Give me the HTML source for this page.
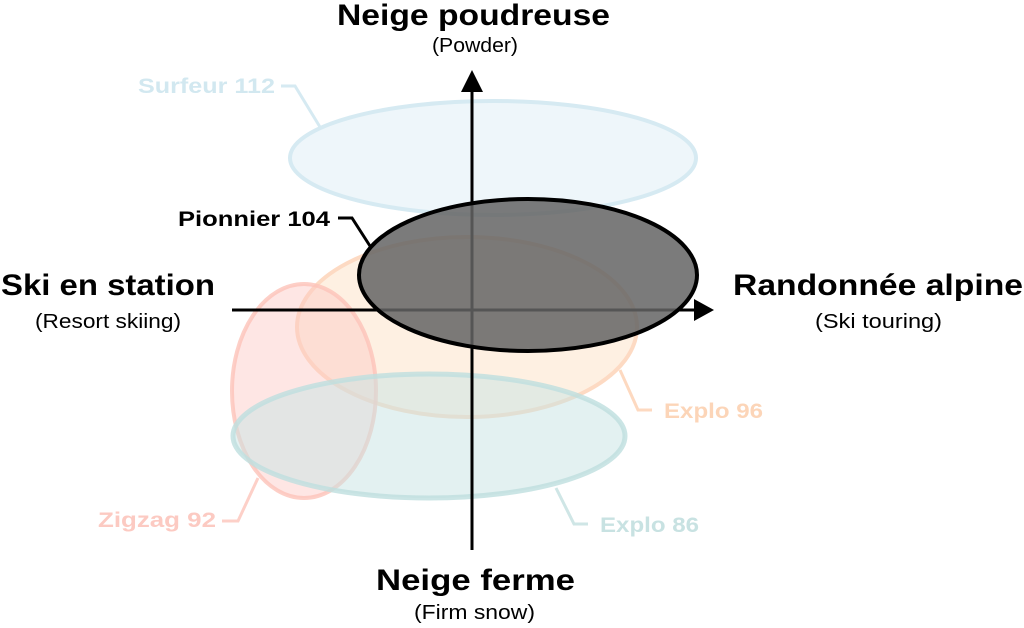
<!DOCTYPE html>
<html><head><meta charset="utf-8"><style>
html,body{margin:0;padding:0;background:#fff;}
svg{display:block;font-family:"Liberation Sans",sans-serif;}
</style></head><body>
<svg width="1024" height="628" viewBox="0 0 1024 628">
<ellipse cx="493" cy="158" rx="203" ry="57" fill="#eef6fa" stroke="#d6eaf2" stroke-width="4"/>
<ellipse cx="467" cy="327" rx="170" ry="90" fill="rgba(253,225,200,0.55)" stroke="#fdd9c0" stroke-width="4" opacity="0.95"/>
<ellipse cx="304" cy="391" rx="72" ry="107" fill="rgba(252,200,195,0.45)" stroke="rgba(252,195,185,0.8)" stroke-width="4"/>
<ellipse cx="429" cy="436" rx="196" ry="62" fill="rgba(200,228,228,0.5)" stroke="rgba(190,222,222,0.8)" stroke-width="5"/>
<g stroke="#000" stroke-width="3" fill="none">
<line x1="232" y1="310" x2="696" y2="310"/>
<line x1="472" y1="550" x2="472" y2="90"/>
</g>
<polygon points="694,299 714,310 694,321" fill="#000"/>
<polygon points="461,92 472,70 483,92" fill="#000"/>
<ellipse cx="528" cy="275" rx="169" ry="76" fill="rgba(100,100,100,0.85)" stroke="#000" stroke-width="4"/>
<g fill="none" stroke-width="3">
<polyline points="281,86 295,86 320,127" stroke="#d6eaf2"/>
<polyline points="338,218 352,218 370,246" stroke="#000"/>
<polyline points="620,370 638,410 652,410" stroke="#fdd9c0"/>
<polyline points="556,488 574,524 588,524" stroke="#cfe6e6"/>
<polyline points="222,521 238,521 258,478" stroke="#fdd0c8"/>
</g>
<g font-weight="bold" lengthAdjust="spacingAndGlyphs">
<text x="337" y="25" font-size="30" textLength="273" lengthAdjust="spacingAndGlyphs">Neige poudreuse</text>
<text x="376" y="590" font-size="30" textLength="199" lengthAdjust="spacingAndGlyphs">Neige ferme</text>
<text x="1" y="295" font-size="30" textLength="214" lengthAdjust="spacingAndGlyphs">Ski en station</text>
<text x="733" y="295" font-size="30" textLength="290" lengthAdjust="spacingAndGlyphs">Randonnée alpine</text>
<text x="138" y="93" font-size="21" fill="#d2e8f0" textLength="137" lengthAdjust="spacingAndGlyphs">Surfeur 112</text>
<text x="178" y="226" font-size="21" fill="#000" textLength="152" lengthAdjust="spacingAndGlyphs">Pionnier 104</text>
<text x="664" y="418" font-size="21" fill="#fcd5b8" textLength="99" lengthAdjust="spacingAndGlyphs">Explo 96</text>
<text x="600" y="532" font-size="21" fill="#c8e2e2" textLength="99" lengthAdjust="spacingAndGlyphs">Explo 86</text>
<text x="98" y="527" font-size="21" fill="#fccac2" textLength="118" lengthAdjust="spacingAndGlyphs">Zigzag 92</text>
</g>
<g font-size="20">
<text x="432" y="52" textLength="86" lengthAdjust="spacingAndGlyphs">(Powder)</text>
<text x="414" y="619" textLength="121" lengthAdjust="spacingAndGlyphs">(Firm snow)</text>
<text x="35" y="328" textLength="146" lengthAdjust="spacingAndGlyphs">(Resort skiing)</text>
<text x="815" y="328" textLength="127" lengthAdjust="spacingAndGlyphs">(Ski touring)</text>
</g>
</svg>
</body></html>
